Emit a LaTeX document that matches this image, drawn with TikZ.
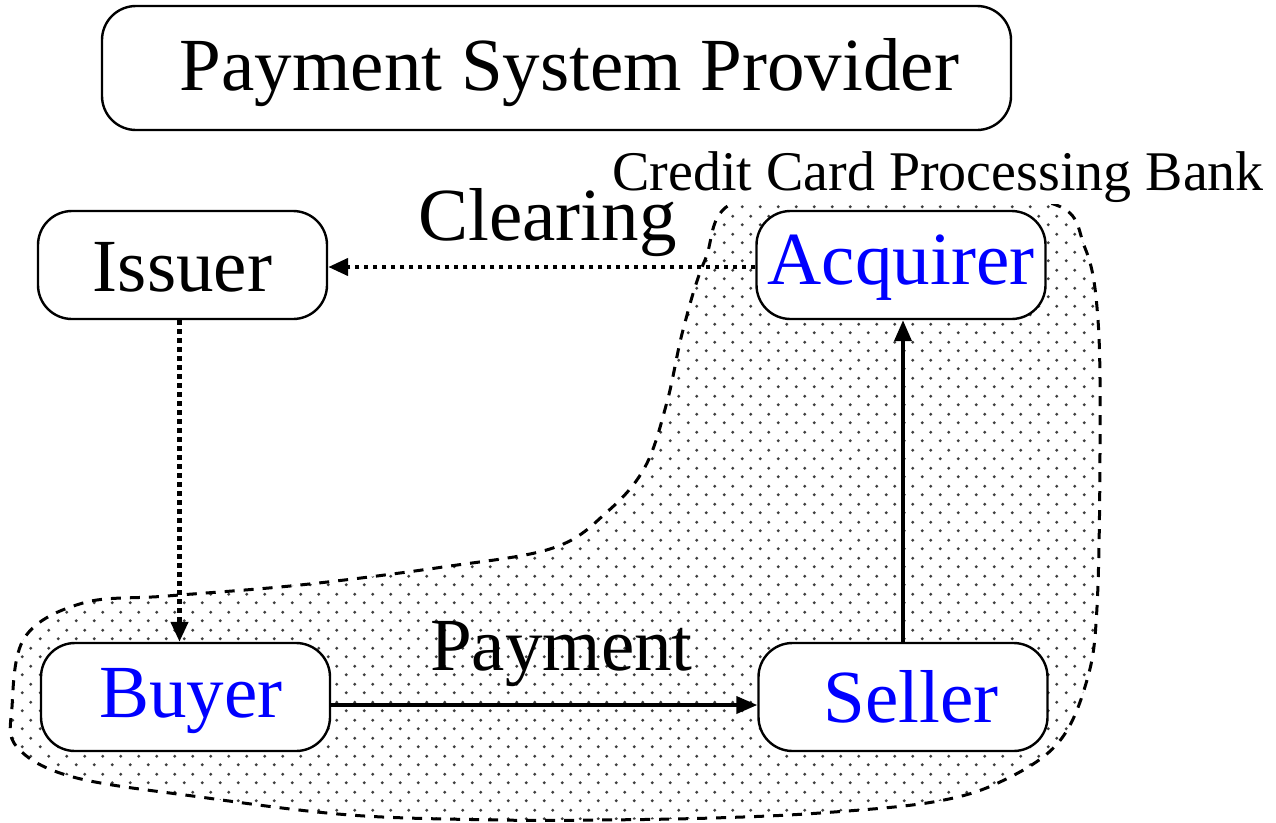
\documentclass[tikz,border=0pt]{standalone}
\usepackage{fontspec}
\setmainfont{Liberation Serif}
\usetikzlibrary{arrows.meta,patterns.meta}
\tikzdeclarepattern{
  name=xdots,
  type=uncolored,
  bottom left={(0pt,0pt)},
  top right={(18pt,18pt)},
  tile size={(18pt,18pt)},
  code={
    \pgfpathcircle{\pgfqpoint{4.5pt}{4.5pt}}{1.7pt}
    \pgfpathcircle{\pgfqpoint{13.5pt}{13.5pt}}{1.7pt}
    \pgfusepath{fill}
  }
}
\tikzset{
  box/.style={draw=black, line width=2.4pt, rounded corners=34pt, fill=white,
    inner sep=0pt, minimum width=289pt, minimum height=108pt,
    font=\fontsize{75}{90}\selectfont},
  bigbox/.style={box, minimum width=909pt, minimum height=124pt},
  lbl/.style={inner sep=0pt, anchor=base west, font=\fontsize{75}{90}\selectfont},
  smalllbl/.style={inner sep=2pt, anchor=base west, fill=white, font=\fontsize{56}{66}\selectfont},
  dotarrow/.style={line width=4.4pt, dash pattern=on 4.4pt off 4.6pt, -{Triangle[length=20pt,width=17pt]}},
  solidarrow/.style={line width=3.8pt, -{Triangle[length=21pt,width=17pt]}},
  blob/.style={draw=black, line width=3pt, dash pattern=on 10pt off 9pt, pattern=xdots, pattern color=black!75}
}
\begin{document}
\begin{tikzpicture}[x=1pt,y=-1pt]
\useasboundingbox[fill=white] (0,0) rectangle (1276,822);
% processing bank region
\path[blob] plot[smooth cycle, tension=0.6] coordinates {
  (740,200) (900,197) (1050,203) (1085,248) (1098,320) (1100,450) (1097,607)
  (1087,680) (1058,743) (1000,782) (933,802) (820,813) (713,818) (600,820)
  (500,820) (350,815) (200,797) (73,777) (17,747) (12,707) (25,637) (83,603)
  (167,596) (300,585) (443,567) (553,548) (607,512) (645,467) (667,402)
  (683,330) (705,260)};
\node[smalllbl] (bank) at (610,190) {Credit Card Processing Bank};
% boxes
\node[bigbox, text height=60pt, text depth=16pt] (psp) at (556.5,68) {\hspace{26pt}Payment System Provider};
\node[box, text height=58pt, text depth=6pt] (iss) at (182.5,265) {Issuer};
\node[box, text height=54pt, text depth=16pt] (acq) at (901,265) {\color{blue}Acquirer};
\node[box, text height=56pt, text depth=16pt] (buy) at (185.5,697) {\hspace{11pt}\color{blue}Buyer};
\node[box, text height=56pt, text depth=6pt] (sel) at (903,697) {\hspace{16pt}\color{blue}Seller};
% connectors
\draw[dotarrow] ([yshift=-2pt]acq.west) -- ([yshift=-2pt]acq.west -| iss.east);
\draw[dotarrow] ([xshift=-3pt]iss.south) -- ([xshift=-3pt]iss.south |- buy.north);
\draw[solidarrow] ([yshift=-8pt]buy.east) -- ([yshift=-8pt]buy.east -| sel.west);
\draw[solidarrow] (sel.north) -- (sel.north |- acq.south);
% labels
\node[lbl] (clr) at (418,240) {Clearing};
\node[lbl] (pay) at (430,670) {Payment};
\end{tikzpicture}
\end{document}
